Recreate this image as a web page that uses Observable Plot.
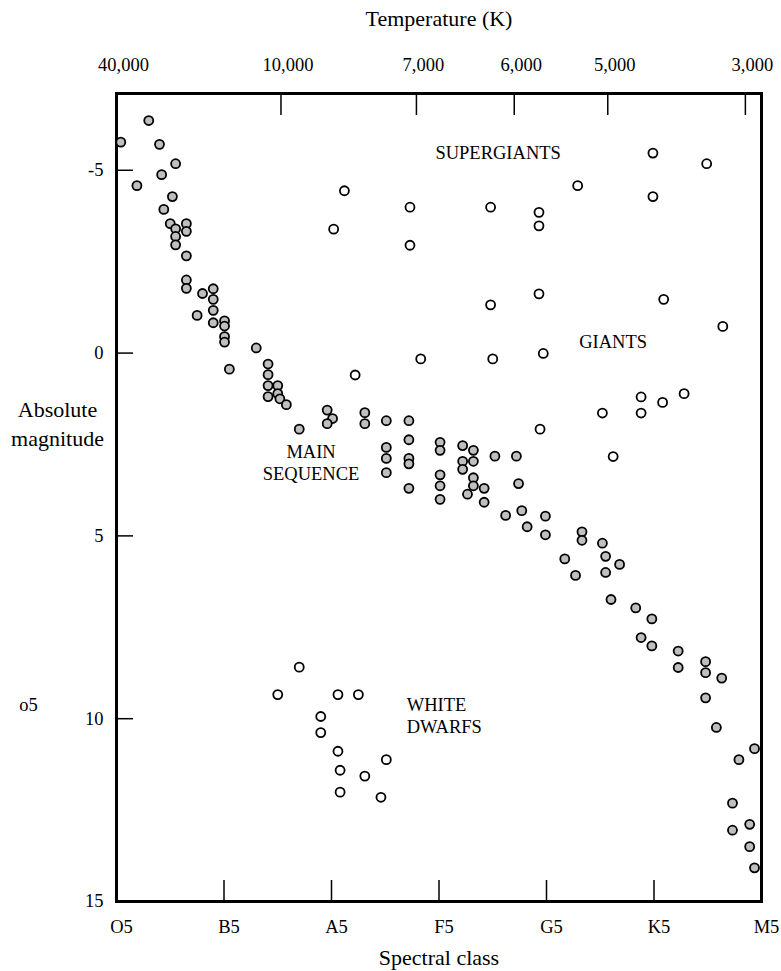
<!DOCTYPE html>
<html>
<head>
<meta charset="utf-8">
<script src="https://cdn.jsdelivr.net/npm/d3@7"></script>
<script src="https://cdn.jsdelivr.net/npm/@observablehq/plot@0.6"></script>
<style>
  html, body { margin: 0; padding: 0; background: #fff; }
  svg { display: block; }
</style>
</head>
<body>
<div id="chart"></div>
<script>
// Spectral class scale: O5 = 0, B5 = 10, A5 = 20, F5 = 30, G5 = 40, K5 = 50, M5 = 60
const spectralTicks = [0, 10, 20, 30, 40, 50, 60];
const spectralLabels = ["O5", "B5", "A5", "F5", "G5", "K5", "M5"];

// Temperature axis (top): temperatures and the spectral position they correspond to
const tempLabels = ["40,000", "10,000", "7,000", "6,000", "5,000", "3,000"];
const tempClass = [0, 15.3, 27.9, 37.0, 45.7, 58.5];

const magTicks = [-5, 0, 5, 10, 15];
const magLabels = ["-5", "0", "5", "10", "15"];

// Main sequence stars (grey)
const mainClass = [0.4, 3.0, 4.0, 5.5, 1.9, 4.2, 5.2, 4.4, 5.0, 5.5, 5.5, 5.5, 6.5, 6.5, 6.5, 6.5, 6.5, 8.0, 9.0, 9.0, 9.0, 7.5, 9.0, 10.05, 10.05, 10.05, 10.05, 13.0, 10.5,
  14.1, 14.1, 14.1, 14.1, 15.0, 15.0, 15.2, 15.8, 17.0, 19.6, 20.1, 19.6, 23.1, 23.1, 25.1, 27.2, 27.2, 25.1, 25.1, 25.1, 27.2, 27.2, 27.2,
  30.1, 30.1, 30.1, 30.1, 30.1, 32.2, 33.2, 32.2, 33.2, 32.2, 33.2, 33.2, 32.65, 34.2, 34.2, 35.2, 36.2,
  37.2, 37.4, 37.7, 38.2, 39.9, 39.9, 43.3, 43.3, 45.2, 45.5, 46.8, 41.7, 42.7, 45.5, 46.0, 48.3, 49.8, 48.8, 49.8, 52.25, 52.25, 54.8, 54.8, 56.3,
  54.8, 55.8, 59.35, 57.9, 57.3, 58.9, 57.3, 58.9, 59.35];
const mainMag = [-5.77, -6.36, -5.71, -5.18, -4.58, -4.88, -4.28, -3.93, -3.54, -3.40, -3.19, -2.96, -3.54, -3.33, -2.66, -2.00, -1.77, -1.63, -1.76, -1.47, -1.17, -1.03, -0.83, -0.88, -0.74, -0.45, -0.30, -0.14, 0.44,
  0.30, 0.59, 0.89, 1.19, 0.89, 1.11, 1.25, 1.41, 2.08, 1.56, 1.79, 1.93, 1.63, 1.93, 1.85, 1.85, 2.37, 2.58, 2.88, 3.27, 2.88, 3.03, 3.70,
  2.44, 2.66, 3.33, 3.63, 4.00, 2.53, 2.66, 2.96, 2.96, 3.18, 3.41, 3.63, 3.86, 3.70, 4.08, 2.82, 4.44,
  2.82, 3.57, 4.31, 4.75, 4.46, 4.97, 4.89, 5.12, 5.20, 5.56, 5.78, 5.63, 6.08, 6.00, 6.74, 6.97, 7.27, 7.78, 8.01, 8.15, 8.60, 8.44, 8.74, 8.89,
  9.43, 10.24, 10.82, 11.12, 12.31, 12.89, 13.05, 13.50, 14.08];

// Giants and supergiants (open)
const giantClass = [21.2, 20.2, 27.3, 27.3, 34.8, 39.3, 39.3, 42.9, 49.9, 49.9, 54.9, 34.8, 39.3, 50.9, 56.4, 28.3, 35.0, 39.7, 22.2, 45.2, 48.8, 48.8, 50.8, 52.8, 39.4, 46.2];
const giantMag = [-4.44, -3.39, -3.99, -2.95, -3.99, -3.85, -3.48, -4.58, -5.47, -4.28, -5.18, -1.32, -1.62, -1.47, -0.73, 0.16, 0.16, 0.01, 0.60, 1.64, 1.20, 1.64, 1.35, 1.11, 2.08, 2.83];

// White dwarfs (open)
const dwarfClass = [17.0, 15.0, 20.6, 22.5, 19.0, 19.0, 20.6, 25.1, 20.8, 23.1, 20.8, 24.6];
const dwarfMag = [8.59, 9.34, 9.34, 9.34, 9.94, 10.38, 10.89, 11.12, 11.41, 11.57, 12.01, 12.15];

// Region labels (centred)
const regionText = ["SUPERGIANTS", "GIANTS", "MAIN\nSEQUENCE"];
const regionClass = [35.5, 46.2, 18.1];
const regionMag = [-5.51, -0.32, 2.99];
// White dwarf label (left aligned)
const dwarfLabel = "WHITE\nDWARFS";
const dwarfLabelClass = 27.0;
const dwarfLabelMag = 9.89;

const mainData = mainClass.map((c, i) => ({c, m: mainMag[i]}));
const openData = giantClass.map((c, i) => ({c, m: giantMag[i]}))
  .concat(dwarfClass.map((c, i) => ({c, m: dwarfMag[i]})));
const regions = regionText.map((t, i) => ({t, c: regionClass[i], m: regionMag[i]}));

const W = 781, H = 971;
const mL = 116, mR = 20, mT = 93, mB = 70;
const innerW = W - mL - mR, innerH = H - mT - mB;
const font = "'Liberation Serif', 'Times New Roman', serif";

const chart = Plot.plot({
  width: W,
  height: H,
  marginLeft: mL, marginRight: mR, marginTop: mT, marginBottom: mB,
  x: {domain: [0, 60], axis: null},
  y: {domain: [-7.1, 15], reverse: true, axis: null},
  style: {fontFamily: font, fontSize: "18.5px", color: "black", background: "white", overflow: "visible"},
  marks: [
    // inward ticks
    Plot.ruleX(spectralTicks.filter(d => d > 0 && d < 60), {x: d => d, insetTop: innerH - 21, stroke: "black", strokeWidth: 1.5}),
    Plot.ruleX(tempClass.filter(d => d > 0 && d < 60), {x: d => d, insetBottom: innerH - 22, stroke: "black", strokeWidth: 1.5}),
    Plot.ruleY(magTicks.filter(d => d < 15), {y: d => d, insetRight: innerW - 17, stroke: "black", strokeWidth: 1.5}),
    Plot.frame({stroke: "black", strokeWidth: 3}),
    // tick labels
    Plot.text(spectralTicks, {x: d => d, text: (d, i) => spectralLabels[i], frameAnchor: "bottom", lineAnchor: "middle", dy: 26, dx: 5, fontSize: 18.5}),
    Plot.text(tempClass, {x: d => d, text: (d, i) => tempLabels[i], frameAnchor: "top", lineAnchor: "middle", dy: -28, dx: 7, fontSize: 18.5}),
    Plot.text(magTicks, {y: d => d, text: (d, i) => magLabels[i], frameAnchor: "left", lineAnchor: "middle", dx: -13, textAnchor: "end", fontSize: 18.5}),
    // axis titles
    Plot.text(["Temperature (K)"], {frameAnchor: "top", lineAnchor: "middle", dy: -75, fontSize: 22}),
    Plot.text(["Spectral class"], {frameAnchor: "bottom", lineAnchor: "middle", dy: 56, fontSize: 22}),
    Plot.text(["Absolute\nmagnitude"], {frameAnchor: "top-left", lineAnchor: "middle", dx: -59, dy: 329, textAnchor: "middle", lineHeight: 1.3, fontSize: 22}),
    Plot.text(["o5"], {frameAnchor: "top-left", lineAnchor: "middle", dx: -88, dy: 612, textAnchor: "middle", fontSize: 18.5}),
    // region labels
    Plot.text(regions, {x: "c", y: "m", text: "t", textAnchor: "middle", lineAnchor: "middle", lineHeight: 1.18, fontSize: 18.5}),
    Plot.text([dwarfLabel], {x: dwarfLabelClass, y: dwarfLabelMag, text: d => d, textAnchor: "start", lineAnchor: "middle", lineHeight: 1.18, fontSize: 18.5}),
    // stars
    Plot.dot(openData, {x: "c", y: "m", r: 4.5, fill: "white", stroke: "black", strokeWidth: 1.8}),
    Plot.dot(mainData, {x: "c", y: "m", r: 4.5, fill: "#bfbfbf", stroke: "black", strokeWidth: 1.8})
  ]
});
document.getElementById("chart").append(chart);
</script>
</body>
</html>
